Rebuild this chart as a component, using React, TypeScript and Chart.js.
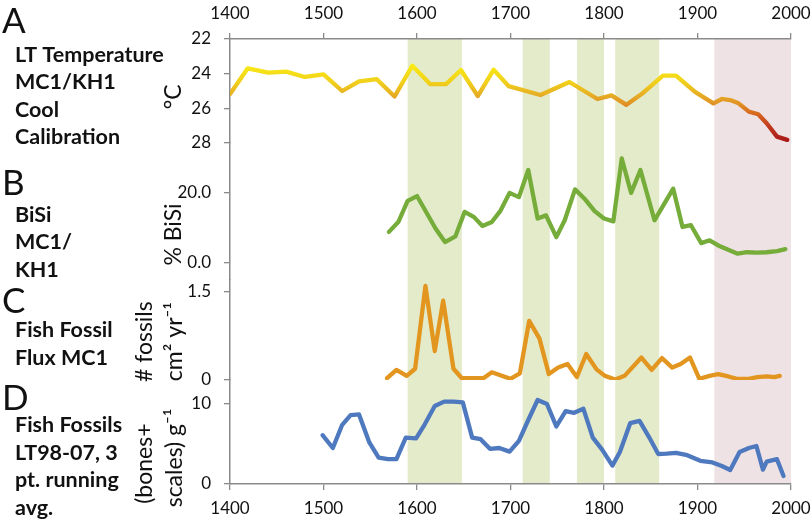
import React, { useEffect, useRef } from "react";
import { Chart, registerables } from "chart.js";

Chart.register(...registerables);

// ---------- data ----------
const TEMP_YEARS = [1400, 1419, 1441, 1460, 1480, 1500, 1520, 1538, 1557, 1576, 1595, 1614, 1631, 1647, 1665, 1682, 1698, 1732, 1763, 1793, 1808, 1824, 1842, 1863, 1877, 1897, 1917, 1926, 1935, 1944, 1955, 1965, 1974, 1985, 1996];
const TEMP_VALUES = [25.17, 23.69, 23.94, 23.88, 24.19, 24.04, 25.0, 24.44, 24.32, 25.32, 23.54, 24.6, 24.6, 23.79, 25.29, 23.77, 24.72, 25.23, 24.48, 25.46, 25.25, 25.8, 25.1, 24.11, 24.11, 25.04, 25.71, 25.46, 25.52, 25.71, 26.19, 26.34, 26.86, 27.63, 27.82];

const BISI_YEARS = [1570, 1580, 1590, 1600, 1620, 1630, 1641, 1651, 1661, 1670, 1680, 1689, 1699, 1709, 1719, 1729, 1738, 1749, 1758, 1769, 1780, 1790, 1800, 1810, 1819, 1829, 1839, 1854, 1874, 1884, 1893, 1904, 1913, 1924, 1943, 1953, 1964, 1974, 1985, 1994];
const BISI_VALUES = [8.7, 11.5, 17.5, 18.9, 9.6, 5.8, 7.4, 14.4, 12.9, 10.4, 11.5, 14.6, 19.8, 18.6, 26.3, 12.5, 13.4, 7.2, 12.0, 20.8, 17.9, 14.6, 12.5, 11.7, 29.6, 19.8, 26.3, 12.0, 21.0, 10.1, 10.6, 5.5, 6.3, 4.6, 2.5, 2.9, 2.8, 2.9, 3.2, 3.8];

const FLUX_YEARS = [1568, 1578, 1589, 1598, 1609, 1619, 1628, 1639, 1648, 1671, 1680, 1700, 1710, 1720, 1731, 1741, 1751, 1761, 1771, 1781, 1792, 1801, 1812, 1822, 1840, 1851, 1862, 1873, 1882, 1892, 1902, 1913, 1922, 1933, 1942, 1955, 1964, 1974, 1982, 1988];
const FLUX_VALUES = [0.03, 0.17, 0.07, 0.19, 1.59, 0.49, 1.34, 0.19, 0.03, 0.03, 0.13, 0.02, 0.11, 1.0, 0.7, 0.1, 0.21, 0.27, 0.05, 0.44, 0.18, 0.07, 0.01, 0.07, 0.38, 0.17, 0.37, 0.21, 0.27, 0.38, 0.02, 0.07, 0.1, 0.06, 0.02, 0.02, 0.05, 0.06, 0.05, 0.07];

const FOSSIL_YEARS = [1499, 1510, 1520, 1529, 1538, 1549, 1559, 1569, 1578, 1588, 1599, 1608, 1619, 1629, 1639, 1649, 1659, 1668, 1678, 1688, 1699, 1709, 1719, 1729, 1739, 1749, 1759, 1768, 1778, 1788, 1798, 1809, 1817, 1828, 1838, 1848, 1858, 1867, 1877, 1889, 1903, 1916, 1926, 1935, 1945, 1955, 1963, 1970, 1974, 1985, 1992];
const FOSSIL_VALUES = [6.1, 4.5, 7.4, 8.6, 8.7, 5.2, 3.3, 3.1, 3.1, 5.8, 5.7, 7.4, 9.75, 10.3, 10.3, 10.2, 5.8, 5.6, 4.4, 4.5, 4.05, 5.4, 8.0, 10.5, 10.0, 7.2, 9.1, 8.9, 9.4, 5.8, 4.3, 2.3, 4.0, 7.6, 7.9, 5.9, 3.75, 3.8, 3.9, 3.6, 2.9, 2.7, 2.25, 1.75, 4.0, 4.5, 4.75, 1.8, 2.8, 3.1, 1.0];

const GREEN_BAND_START = [1590, 1713, 1771, 1812];
const GREEN_BAND_END = [1648, 1742, 1800, 1859];
const PINK_BAND_START = [1918];
const PINK_BAND_END = [2000];

const YEAR_MIN = 1400;
const YEAR_MAX = 2000;
const YEAR_STEP = 100;

const TEMP_TICKS = [22, 24, 26, 28];
const BISI_TICKS = [0, 20];
const FLUX_TICKS = [0, 1.5];
const FOSSIL_TICKS = [0, 10];

const TEMP_RANGE = [22, 28];
const BISI_RANGE = [-5, 34];
const FLUX_RANGE = [0, 1.69];
const FOSSIL_RANGE = [0, 13];

// trailing en-spaces nudge the centred, rotated titles downwards as in the reference
const TEMP_TITLE = "°C\u2002";
const BISI_TITLE = "% BiSi\u2002\u2002\u2002\u2002";
const FLUX_TITLE = ["# fossils\u2002  ", "cm² yr⁻¹\u2002  "];
const FOSSIL_TITLE = ["(bones+\u2002\u2002\u2002\u2002\u2002 ", "scales) g⁻¹\u2002\u2002\u2002\u2002 "];

const PANEL_LETTERS = ["A", "B", "C", "D"];
const PANEL_TEXT_A = ["LT Temperature", "MC1/KH1", "Cool", "Calibration"];
const PANEL_TEXT_B = ["BiSi", "MC1/", "KH1"];
const PANEL_TEXT_C = ["Fish Fossil", "Flux MC1"];
const PANEL_TEXT_D = ["Fish Fossils", "LT98-07, 3", "pt. running", "avg."];

// ---------- styling ----------
const FONT = "Lato, 'Open Sans', 'Liberation Sans', sans-serif";
const AXIS_COLOR = "#8a8a8a";
const TEXT_COLOR = "#111111";
const GREEN_LINE = "#76AC3A";
const ORANGE_LINE = "#E3961F";
const BLUE_LINE = "#4E79BE";
const GREEN_BAND = "#E4EBCA";
const PINK_BAND = "#EFE2E4";

const toXY = (xs: number[], ys: number[]) => xs.map((x, i) => ({ x, y: ys[i] }));

const bandsPlugin = {
  id: "bands",
  beforeDraw(chart: any) {
    const { ctx, chartArea, scales } = chart;
    const xs = scales.x;
    if (!xs || !chartArea) return;
    ctx.save();
    const drawBand = (s: number, e: number, color: string) => {
      const x0 = xs.getPixelForValue(s);
      const x1 = xs.getPixelForValue(e);
      ctx.fillStyle = color;
      ctx.fillRect(x0, chartArea.top, x1 - x0, chartArea.bottom - chartArea.top);
    };
    GREEN_BAND_START.forEach((s, i) => drawBand(s, GREEN_BAND_END[i], GREEN_BAND));
    PINK_BAND_START.forEach((s, i) => drawBand(s, PINK_BAND_END[i], PINK_BAND));
    ctx.restore();
  },
};

const labelsPlugin = {
  id: "panelLabels",
  afterDraw(chart: any) {
    const { ctx } = chart;
    ctx.save();
    ctx.fillStyle = TEXT_COLOR;
    ctx.textAlign = "left";
    ctx.textBaseline = "alphabetic";
    const letterBaselines = [33, 195, 313, 410];
    ctx.font = `35px ${FONT}`;
    PANEL_LETTERS.forEach((l, i) => ctx.fillText(l, 2, letterBaselines[i]));
    ctx.font = `bold 21.5px ${FONT}`;
    const blocks: [string[], number][] = [
      [PANEL_TEXT_A, 61.5],
      [PANEL_TEXT_B, 221.5],
      [PANEL_TEXT_C, 337],
      [PANEL_TEXT_D, 432],
    ];
    blocks.forEach(([lines, y0]) => {
      lines.forEach((t, j) => ctx.fillText(t, 15, y0 + j * 27.5));
    });
    ctx.restore();
  },
};

function yAxis(opts: {
  range: number[];
  ticks: number[];
  fmt: (v: number) => string;
  title: string | string[];
  titlePad: number;
  weight: number;
  stackWeight: number;
  reverse?: boolean;
}) {
  return {
    type: "linear",
    position: "left",
    stack: "panels",
    stackWeight: opts.stackWeight,
    weight: opts.weight,
    reverse: !!opts.reverse,
    min: opts.range[0],
    max: opts.range[1],
    afterBuildTicks: (scale: any) => {
      scale.ticks = opts.ticks.map((v) => ({ value: v }));
    },
    afterFit: (scale: any) => {
      scale.width = 110;
    },
    ticks: {
      callback: (v: any) => opts.fmt(Number(v)),
      color: TEXT_COLOR,
      font: { family: FONT, size: 17 },
      padding: 13,
      autoSkip: false,
    },
    grid: {
      display: true,
      drawOnChartArea: false,
      drawTicks: true,
      tickLength: 6,
      color: AXIS_COLOR,
      lineWidth: 1.3,
    },
    border: { display: true, color: AXIS_COLOR, width: 1.5 },
    title: {
      display: true,
      text: opts.title,
      color: TEXT_COLOR,
      font: { family: FONT, size: 23, lineHeight: 1.3 },
      padding: { top: opts.titlePad, bottom: 0 },
    },
  };
}

function xAxis(position: string, pad: number, height: number) {
  return {
    type: "linear",
    position,
    min: YEAR_MIN,
    max: YEAR_MAX,
    afterFit: (scale: any) => {
      scale.height = height;
      scale.paddingLeft = 0;
      scale.paddingRight = 0;
    },
    ticks: {
      stepSize: YEAR_STEP,
      callback: (v: any) => String(v),
      color: TEXT_COLOR,
      font: { family: FONT, size: 17 },
      padding: pad,
      maxRotation: 0,
      autoSkip: false,
    },
    grid: {
      display: true,
      drawOnChartArea: false,
      drawTicks: true,
      tickLength: 6,
      color: AXIS_COLOR,
      lineWidth: 1.3,
    },
    border: { display: true, color: AXIS_COLOR, width: 1.5 },
  };
}

export default function App() {
  const canvasRef = useRef<HTMLCanvasElement | null>(null);

  useEffect(() => {
    if (!canvasRef.current) return;
    const tempColor = (c: any) => {
      const chart = c.chart;
      const s = chart.scales && chart.scales.yA;
      if (!s || !chart.chartArea) return "#F0C81E";
      const g = chart.ctx.createLinearGradient(0, s.getPixelForValue(23.5), 0, s.getPixelForValue(28));
      g.addColorStop(0, "#F9EA16");
      g.addColorStop(0.22, "#F1D01B");
      g.addColorStop(0.4, "#E5AA24");
      g.addColorStop(0.51, "#E08E25");
      g.addColorStop(0.62, "#D6691F");
      g.addColorStop(0.8, "#BF371C");
      g.addColorStop(1, "#A51418");
      return g;
    };

    const lineStyle = {
      borderWidth: 4.3,
      pointRadius: 0,
      pointHoverRadius: 0,
      tension: 0,
      borderJoinStyle: "round",
      borderCapStyle: "round",
      fill: false,
      xAxisID: "x",
    };

    const chart = new Chart(canvasRef.current, {
      type: "line",
      data: {
        datasets: [
          { ...lineStyle, label: "LT Temperature", data: toXY(TEMP_YEARS, TEMP_VALUES), yAxisID: "yA", borderColor: tempColor },
          { ...lineStyle, label: "BiSi", data: toXY(BISI_YEARS, BISI_VALUES), yAxisID: "yB", borderColor: GREEN_LINE },
          { ...lineStyle, label: "Fish Fossil Flux", data: toXY(FLUX_YEARS, FLUX_VALUES), yAxisID: "yC", borderColor: ORANGE_LINE },
          { ...lineStyle, label: "Fish Fossils", data: toXY(FOSSIL_YEARS, FOSSIL_VALUES), yAxisID: "yD", borderColor: BLUE_LINE },
        ] as any,
      },
      options: {
        animation: false,
        responsive: true,
        maintainAspectRatio: false,
        parsing: false as any,
        layout: { padding: { left: 120, right: 21, top: 0, bottom: 0 } },
        plugins: {
          legend: { display: false },
          tooltip: { enabled: false },
          title: { display: false },
        },
        events: [],
        scales: {
          x: xAxis("bottom", 8, 36),
          x2: xAxis("top", 9, 39),
          yA: yAxis({ range: TEMP_RANGE, ticks: TEMP_TICKS, fmt: (v) => String(v), title: TEMP_TITLE, titlePad: 39, weight: 4, stackWeight: 104, reverse: true }),
          yB: yAxis({ range: BISI_RANGE, ticks: BISI_TICKS, fmt: (v) => v.toFixed(1), title: BISI_TITLE, titlePad: 39, weight: 3, stackWeight: 137 }),
          yC: yAxis({ range: FLUX_RANGE, ticks: FLUX_TICKS, fmt: (v) => String(v), title: FLUX_TITLE, titlePad: 10, weight: 2, stackWeight: 100 }),
          yD: yAxis({ range: FOSSIL_RANGE, ticks: FOSSIL_TICKS, fmt: (v) => String(v), title: FOSSIL_TITLE, titlePad: 10, weight: 1, stackWeight: 104 }),
        } as any,
      },
      plugins: [bandsPlugin, labelsPlugin],
    });
    return () => chart.destroy();
  }, []);

  return (
    <div style={{ position: "fixed", left: 0, top: 0, width: 812, height: 520, background: "#ffffff" }}>
      <canvas ref={canvasRef} />
    </div>
  );
}
